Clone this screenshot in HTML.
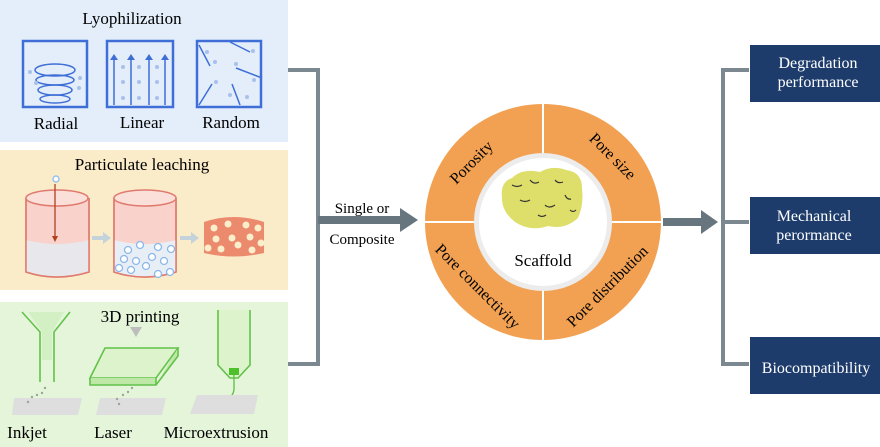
<!DOCTYPE html>
<html><head><meta charset="utf-8"><style>
body{margin:0;background:#fff;}
svg{display:block;font-family:"Liberation Serif",serif;}
</style></head><body>
<svg width="880" height="447" viewBox="0 0 880 447" xmlns="http://www.w3.org/2000/svg">
<rect x="0" y="0" width="288" height="142" fill="#e3eefa"/>
<rect x="0" y="150" width="288" height="140" fill="#faebc9"/>
<rect x="0" y="302" width="288" height="145" fill="#e5f5da"/>

<text x="132" y="24" font-size="17" text-anchor="middle">Lyophilization</text>
<g fill="none" stroke="#3f6fd6" stroke-width="2.5">
<rect x="23" y="41" width="64" height="66"/>
<rect x="107" y="41" width="66" height="66"/>
<rect x="197" y="41" width="64" height="66"/>
</g>
<g fill="none" stroke="#3f6fd6" stroke-width="1.5">
<ellipse cx="55" cy="70" rx="20" ry="6"/><ellipse cx="55" cy="80" rx="19" ry="5"/><ellipse cx="55" cy="90" rx="17" ry="5"/><ellipse cx="55" cy="99" rx="15" ry="4"/>
<path d="M114 105V58M131 105V58M149 105V58M165 105V58"/>
<path d="M199 45L210 66M230 42L250 52M262 78L236 68M199 105L212 84M240 105L232 84"/>
</g>
<g fill="#3f6fd6">
<path d="M110 60l4-6 4 6zM127 60l4-6 4 6zM145 60l4-6 4 6zM161 60l4-6 4 6z"/>
</g>
<g fill="#a8c0ec">
<circle cx="30" cy="72" r="2"/><circle cx="36" cy="83" r="2"/><circle cx="80" cy="78" r="2"/><circle cx="79" cy="88" r="2"/><circle cx="123" cy="67" r="2"/><circle cx="139" cy="67" r="2"/><circle cx="157" cy="67" r="2"/><circle cx="123" cy="82" r="2"/><circle cx="139" cy="82" r="2"/><circle cx="157" cy="82" r="2"/><circle cx="123" cy="98" r="2"/><circle cx="139" cy="98" r="2"/><circle cx="157" cy="98" r="2"/><circle cx="207" cy="52" r="2"/><circle cx="215" cy="62" r="2"/><circle cx="236" cy="64" r="2"/><circle cx="253" cy="51" r="2"/><circle cx="216" cy="82" r="2"/><circle cx="230" cy="95" r="2"/><circle cx="247" cy="97" r="2"/><circle cx="254" cy="80" r="2"/>
</g>
<text x="56" y="129" font-size="17" text-anchor="middle">Radial</text>
<text x="142" y="128" font-size="17" text-anchor="middle">Linear</text>
<text x="231" y="128" font-size="17" text-anchor="middle">Random</text>

<text x="142" y="170" font-size="17" text-anchor="middle">Particulate leaching</text>
<g stroke="#e07a6e" stroke-width="1.5">
<path d="M26 198V272Q56 282 89 272V198" fill="#f9d2cb"/>
<path d="M26 240Q56 248 89 240V272Q56 282 26 272Z" fill="#e8e8ec" stroke="none"/>
<path d="M26 198V272Q56 282 89 272V198" fill="none"/>
<ellipse cx="57" cy="198" rx="31" ry="8" fill="#fbe0da"/>
<path d="M114 198V272Q144 282 176 272V198" fill="#f9d2cb"/>
<path d="M114 240Q144 248 176 240V272Q144 282 114 272Z" fill="#e8eef6" stroke="none"/>
<path d="M114 198V272Q144 282 176 272V198" fill="none"/>
<ellipse cx="145" cy="198" rx="31" ry="8" fill="#fbe0da"/>
</g>
<path d="M55 184V238" stroke="#b04020" stroke-width="1.3"/><path d="M52 236l3 6 3-6z" fill="#b04020"/>
<circle cx="56" cy="179" r="3" fill="#fff" stroke="#9cc4e8" stroke-width="1.5"/>
<path d="M92 238h12" stroke="#c4d2dc" stroke-width="4"/><path d="M103 232l8 6-8 6z" fill="#c4d2dc"/>
<path d="M180 238h12" stroke="#c4d2dc" stroke-width="4"/><path d="M191 232l8 6-8 6z" fill="#c4d2dc"/>
<g fill="#fff" stroke="#8ab8ea" stroke-width="1.3">
<circle cx="128" cy="250" r="3.5"/><circle cx="140" cy="245" r="3.5"/><circle cx="158" cy="247" r="3.5"/><circle cx="171" cy="249" r="3.5"/><circle cx="124" cy="259" r="3.5"/><circle cx="136" cy="261" r="3.5"/><circle cx="152" cy="257" r="3.5"/><circle cx="164" cy="261" r="3.5"/><circle cx="119" cy="268" r="3.5"/><circle cx="131" cy="270" r="3.5"/><circle cx="146" cy="266" r="3.5"/><circle cx="158" cy="274" r="3.5"/><circle cx="170" cy="272" r="3.5"/>
</g>
<path d="M204 222Q233 212 264 222V253Q233 260 204 253Z" fill="#ec8a6e"/>
<g fill="#fbeecb">
<circle cx="214" cy="228" r="3.5"/><circle cx="228" cy="224" r="3.5"/><circle cx="246" cy="225" r="3.5"/><circle cx="258" cy="228" r="3.5"/><circle cx="216" cy="239" r="3.5"/><circle cx="232" cy="238" r="3.5"/><circle cx="250" cy="237" r="3.5"/><circle cx="208" cy="248" r="3.5"/><circle cx="221" cy="249" r="3.5"/><circle cx="238" cy="245" r="3.5"/><circle cx="252" cy="250" r="3.5"/><circle cx="261" cy="243" r="3.5"/>
</g>

<text x="140" y="322" font-size="17" text-anchor="middle">3D printing</text>
<path d="M22 312L40 332V382M70 312L54 332V382" fill="none" stroke="#62c24a" stroke-width="1.6"/>
<path d="M28 312H64L52 332V360H42V332Z" fill="#d3f0c4"/>
<path d="M130 327l6 10 6-10z" fill="#bdbdbd"/>
<path d="M90 378L105 348H178L156 378Z" fill="#dcf3cc" stroke="#62c24a" stroke-width="1.6"/>
<path d="M90 378V385H156V378M156 385L178 356V348" fill="#bfe8a8" stroke="#62c24a" stroke-width="1.6"/>
<path d="M218 310V365L230 378H238L250 365V310" fill="#dcf3cc" stroke="#62c24a" stroke-width="1.6"/>
<rect x="229" y="368" width="10" height="7" fill="#4ec02a"/>
<path d="M234 375V390Q232 402 212 405" fill="none" stroke="#62c24a" stroke-width="1.4"/>
<g fill="#dddedd"><path d="M14 398H82L78 415H12Z"/><path d="M100 398H166L162 415H96Z"/><path d="M197 395H258L254 414H190Z"/></g>
<g fill="#9aa69a"><circle cx="45" cy="388" r="1.2"/><circle cx="42" cy="393" r="1.2"/><circle cx="37" cy="395" r="1.2"/><circle cx="32" cy="397" r="1.2"/><circle cx="28" cy="402" r="1.2"/><circle cx="132" cy="388" r="1.2"/><circle cx="128" cy="392" r="1.2"/><circle cx="123" cy="395" r="1.2"/><circle cx="117" cy="399" r="1.2"/><circle cx="119" cy="404" r="1.2"/></g>
<text x="27" y="438" font-size="17" text-anchor="middle">Inkjet</text>
<text x="113" y="438" font-size="17" text-anchor="middle">Laser</text>
<text x="216" y="438" font-size="17" text-anchor="middle">Microextrusion</text>

<path d="M288 70H318V364H288" fill="none" stroke="#7b888f" stroke-width="4"/>
<path d="M318 220H402" stroke="#67767e" stroke-width="8"/>
<path d="M400 208L418 220L400 232Z" fill="#67767e"/>
<text x="362" y="213" font-size="15" text-anchor="middle">Single or</text>
<text x="362" y="244" font-size="15" text-anchor="middle">Composite</text>

<circle cx="543" cy="222" r="118" fill="#f2a152"/>
<circle cx="543" cy="222" r="69" fill="#ececec"/>
<circle cx="543" cy="222" r="64" fill="#fff"/>
<path d="M543 104V153M543 291V340M425 222H474M612 222H661" stroke="#fff" stroke-width="2"/>
<path d="M502 198Q500 182 512 178Q522 168 540 172Q552 165 566 170Q582 172 582 188Q584 205 578 218Q565 230 548 226Q530 232 515 222Q502 212 502 198Z" fill="#dede6a"/>
<path d="M512 185q5 3 10 0M530 180q4 5 9 2M555 180q3 4 8 2M520 200q5 3 10 0M545 205q4 4 10 0M565 195q2 5 6 4M538 215q4 3 8 0M570 210q3 3 6 0" stroke="#333" stroke-width="1.2" fill="none"/>
<text x="543" y="266" font-size="17" text-anchor="middle">Scaffold</text>
<text transform="translate(475,166) rotate(-45)" font-size="16" text-anchor="middle">Porosity</text>
<text transform="translate(609,160) rotate(45)" font-size="16" text-anchor="middle">Pore size</text>
<text transform="translate(474,290) rotate(45)" font-size="16" text-anchor="middle">Pore connectivity</text>
<text transform="translate(611,290) rotate(-45)" font-size="16" text-anchor="middle">Pore distribution</text>

<path d="M663 222H702" stroke="#67767e" stroke-width="8"/>
<path d="M701 210L718 222L701 234Z" fill="#67767e"/>
<path d="M749 70H723V364H749M723 222H749" fill="none" stroke="#7b888f" stroke-width="4"/>
<g fill="#1d3c6c">
<rect x="750" y="45" width="130" height="57"/>
<rect x="750" y="197" width="130" height="57"/>
<rect x="750" y="337" width="130" height="57"/>
</g>
<g fill="#fff" font-size="16" text-anchor="middle">
<text x="818" y="68">Degradation</text><text x="818" y="87">performance</text>
<text x="814" y="221">Mechanical</text><text x="814" y="240">perormance</text>
<text x="816" y="373">Biocompatibility</text>
</g>
</svg>
</body></html>
